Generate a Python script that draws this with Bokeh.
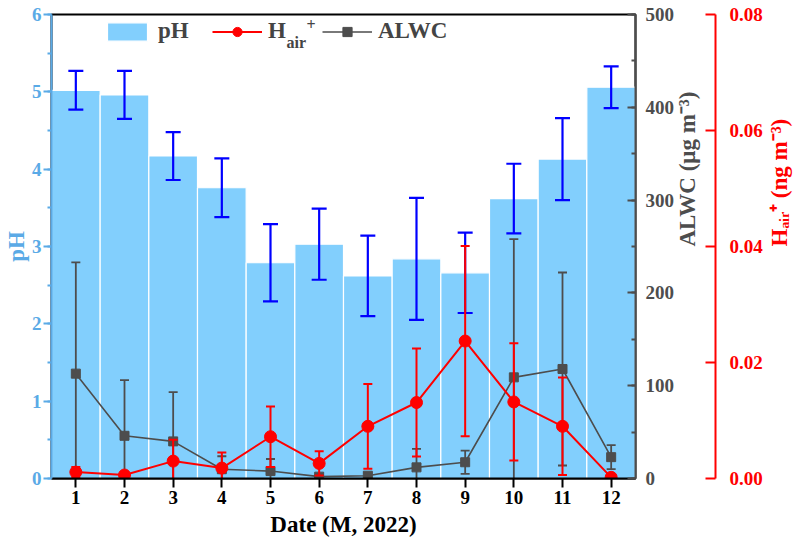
import math
from bokeh.plotting import figure
from bokeh.models import (Range1d, LinearAxis, Legend, LegendItem, Label,
                          FixedTicker, SingleIntervalTicker, NumeralTickFormatter)
from bokeh.embed import file_html
from bokeh.resources import INLINE

# ---- data ----
months = [1, 2, 3, 4, 5, 6, 7, 8, 9, 10, 11, 12]
ph = [5.02, 4.96, 4.17, 3.76, 2.79, 3.03, 2.62, 2.84, 2.66, 3.62, 4.13, 5.06]
ph_err = [0.25, 0.31, 0.31, 0.38, 0.50, 0.46, 0.52, 0.79, 0.52, 0.45, 0.53, 0.27]
alwc = [113, 46, 40, 10, 8, 2, 3, 12, 17.5, 109, 118, 23]
alwc_err = [120, 60, 53, 14, 13, 2, 3, 20, 12.5, 149, 104, 13]
hair = [0.0011, 0.0006, 0.0030, 0.0018, 0.0072, 0.0026, 0.0090, 0.0131, 0.0237, 0.0132, 0.0090, 0.0002]
hair_err = [0.0009, 0.0004, 0.0037, 0.0027, 0.0052, 0.0021, 0.0073, 0.0093, 0.0164, 0.0101, 0.0084, 0.0003]

FONT = "Liberation Serif"
BAR = "#82CFFD"
BLUE_AX = "#5AAAE6"
GRAY = "#4D4D4D"
RED = "#FF0000"
ERRBLUE = "#0000FF"

FW, FH = 584, 464

p = figure(frame_width=FW, frame_height=FH, x_range=Range1d(0.5, 12.5), y_range=Range1d(0, 6),
           output_backend="svg", toolbar_location=None,
           min_border_top=14, min_border_left=0, min_border_right=0, min_border_bottom=0)
p.extra_y_ranges = {"alwc": Range1d(0, 500), "hair": Range1d(0, 0.08)}
p.grid.visible = False
p.outline_line_color = "black"
p.outline_line_width = 2
p.background_fill_color = "white"

# bars
r_bar = p.vbar(x=months, top=ph, width=1.0, bottom=0, fill_color=BAR, line_color="white", line_width=1.2)
ph_lo = [v - e for v, e in zip(ph, ph_err)]
ph_hi = [v + e for v, e in zip(ph, ph_err)]
p.segment(x0=months, x1=months, y0=ph_lo, y1=ph_hi, line_color=ERRBLUE, line_width=2.2)
p.scatter(x=months + months, y=ph_lo + ph_hi, marker="dash", size=15, line_color=ERRBLUE, line_width=2.2)

# ALWC
al_lo = [v - e for v, e in zip(alwc, alwc_err)]
al_hi = [v + e for v, e in zip(alwc, alwc_err)]
p.segment(x0=months, x1=months, y0=al_lo, y1=al_hi, line_color=GRAY, line_width=1.8, y_range_name="alwc")
p.scatter(x=months + months, y=al_lo + al_hi, marker="dash", size=9, line_color=GRAY, line_width=1.8,
          y_range_name="alwc")
r_al = p.line(months, alwc, line_color=GRAY, line_width=1.6, y_range_name="alwc")
r_as = p.scatter(months, alwc, marker="square", size=9, fill_color=GRAY, line_color=GRAY, y_range_name="alwc")

# H_air+
h_lo = [v - e for v, e in zip(hair, hair_err)]
h_hi = [v + e for v, e in zip(hair, hair_err)]
p.segment(x0=months, x1=months, y0=h_lo, y1=h_hi, line_color=RED, line_width=2, y_range_name="hair")
p.scatter(x=months + months, y=h_lo + h_hi, marker="dash", size=9, line_color=RED, line_width=2,
          y_range_name="hair")
r_hl = p.line(months, hair, line_color=RED, line_width=2, y_range_name="hair")
r_hc = p.scatter(months, hair, marker="circle", size=12, fill_color=RED, line_color=RED, y_range_name="hair")

def style_axis(ax, color, size="19px"):
    ax.major_label_text_font = FONT
    ax.major_label_text_font_style = "bold"
    ax.major_label_text_font_size = size
    ax.major_label_text_color = color
    ax.axis_label_text_font = FONT
    ax.axis_label_text_font_style = "bold"
    ax.axis_label_text_font_size = "23px"
    ax.axis_label_text_color = color
    ax.axis_line_color = color
    ax.axis_line_width = 2
    ax.major_tick_line_color = color
    ax.major_tick_line_width = 2
    ax.minor_tick_line_color = color
    ax.minor_tick_line_width = 2

# x axis
xa = p.xaxis[0]
xa.ticker = FixedTicker(ticks=months)
style_axis(xa, "black")
xa.major_tick_out = 9
xa.major_tick_in = 0
xa.minor_tick_line_color = None
xa.axis_label = "Date (M, 2022)"
xa.major_label_standoff = 3
xa.axis_label_standoff = 5

# left pH axis
ya = p.yaxis[0]
ya.ticker = SingleIntervalTicker(interval=1, num_minor_ticks=2)
style_axis(ya, BLUE_AX)
ya.major_tick_out = 8
ya.major_tick_in = 0
ya.minor_tick_out = 4
ya.minor_tick_in = 0
ya.axis_label = "pH"
ya.major_label_standoff = 2
ya.axis_label_standoff = 0

# right ALWC axis
ax2 = LinearAxis(y_range_name="alwc", ticker=SingleIntervalTicker(interval=100, num_minor_ticks=2))
style_axis(ax2, GRAY)
ax2.major_tick_in = 8
ax2.major_tick_out = 0
ax2.minor_tick_in = 4
ax2.minor_tick_out = 0
ax2.axis_label = "ALWC (μg m⁻³)"
ax2.axis_label_orientation = math.pi / 2
ax2.major_label_standoff = 10
ax2.axis_label_standoff = 10
p.add_layout(ax2, "right")

# right H_air+ axis
ax3 = LinearAxis(y_range_name="hair", ticker=SingleIntervalTicker(interval=0.02, num_minor_ticks=2),
                 formatter=NumeralTickFormatter(format="0.00"))
style_axis(ax3, RED)
ax3.major_tick_in = 10
ax3.major_tick_out = 0
ax3.minor_tick_line_color = None
ax3.axis_label = "Hₐᵢᵣ⁺ (ng m⁻³)"
ax3.axis_label_orientation = math.pi / 2
ax3.major_label_standoff = 10
ax3.axis_label_standoff = 14
p.add_layout(ax3, "right")

# legend
legend = Legend(items=[LegendItem(label="pH", renderers=[r_bar]),
                       LegendItem(label="H", renderers=[r_hl, r_hc]),
                       LegendItem(label="ALWC", renderers=[r_al, r_as])],
                location=(51, FH - 5 - 25), orientation="horizontal",
                border_line_color=None, background_fill_alpha=0, padding=0, margin=0,
                glyph_width=50, glyph_height=23, label_standoff=6, spacing=8, label_width=46,
                label_text_font=FONT, label_text_font_style="bold", label_text_font_size="23px")
p.add_layout(legend)

def fx(px):
    return 0.5 + px * 12.0 / FW

def fy(px):
    return 6.0 - px * 6.0 / FH

p.add_layout(Label(x=fx(235), y=fy(28), text="air", text_font=FONT, text_font_style="bold",
                   text_font_size="16px", text_baseline="middle"))
p.add_layout(Label(x=fx(255), y=fy(10), text="+", text_font=FONT, text_font_style="bold",
                   text_font_size="16px", text_baseline="middle"))

open("out.html", "w").write(file_html(p, INLINE))
